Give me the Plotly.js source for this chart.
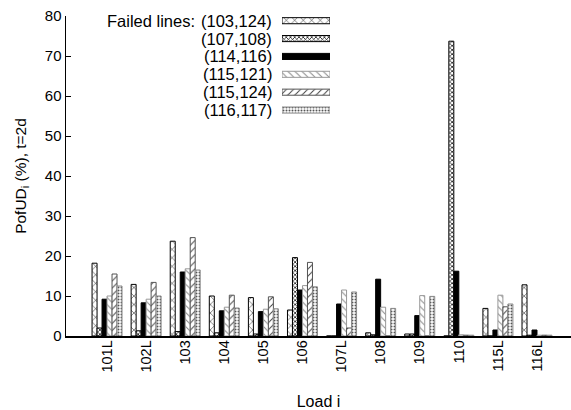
<!DOCTYPE html>
<html>
<head>
<meta charset="utf-8">
<script src="https://cdn.plot.ly/plotly-3.0.1.min.js"></script>
<style>html,body{margin:0;padding:0;background:#fff;}#chart{width:571px;height:410px;}</style>
</head>
<body>
<div id="chart"></div>
<script>
const loads = ["101L","102L","103","104","105","106","107L","108","109","110","115L","116L"];
const seriesNames = ["(103,124)","(107,108)","(114,116)","(115,121)","(115,124)","(116,117)"];
const s103_124 = [18.2, 12.9, 23.7, 10.0, 9.6, 6.5, 0, 0.8, 0.5, 0, 6.9, 12.8];
const s107_108 = [2.0, 1.3, 1.1, 0.8, 0.5, 19.6, 0, 0.3, 0.5, 73.7, 0, 0.2];
const s114_116 = [9.2, 8.3, 16.0, 6.3, 6.1, 11.5, 8.0, 14.2, 5.1, 16.2, 1.5, 1.5];
const s115_121 = [10.0, 9.2, 16.8, 7.2, 6.7, 12.6, 11.5, 7.2, 10.1, 0.3, 10.2, 0.2];
const s115_124 = [15.5, 13.4, 24.6, 10.2, 9.8, 18.4, 2.0, 0, 0, 0.2, 7.3, 0.2];
const s116_117 = [12.5, 10.0, 16.5, 7.0, 6.8, 12.3, 11.0, 6.9, 9.9, 0.2, 8.0, 0.2];
const allSeries = [s103_124, s107_108, s114_116, s115_121, s115_124, s116_117];

const styles = [
  {color:'white', line:{color:'#000', width:1}, pattern:{shape:'x', fgcolor:'#000', bgcolor:'white', size:6, solidity:0.15}},
  {color:'white', line:{color:'#000', width:1}, pattern:{shape:'x', fgcolor:'#000', bgcolor:'white', size:3, solidity:0.4}},
  {color:'#000', line:{color:'#000', width:1}},
  {color:'white', line:{color:'#999', width:1}, pattern:{shape:'\\', fgcolor:'#888', bgcolor:'white', size:5, solidity:0.2}},
  {color:'white', line:{color:'#555', width:1}, pattern:{shape:'/', fgcolor:'#444', bgcolor:'white', size:5, solidity:0.2}},
  {color:'white', line:{color:'#888', width:1}, pattern:{shape:'.', fgcolor:'#555', bgcolor:'white', size:3, solidity:0.35}}
];

const traces = allSeries.map((vals, i) => ({
  type:'bar', x: loads, y: vals, name: seriesNames[i], showlegend:false,
  marker: styles[i], xaxis:'x', yaxis:'y', hoverinfo:'x+y+name'
}));

// Legend key swatches: one horizontal bar per series on a small overlay axis
const keyRows = [0,1,2,3,4,5];
seriesNames.forEach((n, i) => {
  traces.push({
    type:'bar', orientation:'h', x:[1], y:[keyRows[i]], width:0.34, offsetgroup:'key',
    showlegend:false, xaxis:'x2', yaxis:'y2', hoverinfo:'skip', name:n,
    marker: styles[i]
  });
});

const font = "Liberation Sans, Arial, Helvetica, sans-serif";
const rowPaperY = r => (336 - (20.7 + 17.86 * r)) / 320;
const annotations = seriesNames.map((n, i) => ({
  xref:'paper', yref:'paper', x:(274 - 66) / 505, y:rowPaperY(i), text:n, showarrow:false,
  xanchor:'right', yanchor:'middle', font:{family:font, size:16.5, color:'#000'}
}));
annotations.push({
  xref:'paper', yref:'paper', x:(197 - 66) / 505, y:rowPaperY(0), text:'Failed lines:', showarrow:false,
  xanchor:'right', yanchor:'middle', font:{family:font, size:16.5, color:'#000'}
});

const layout = {
  width:571, height:410,
  margin:{l:66, r:0, t:16, b:74},
  paper_bgcolor:'white', plot_bgcolor:'white',
  font:{family:font, size:15, color:'#000'},
  barmode:'group', bargap:0.233, bargroupgap:0,
  showlegend:false,
  xaxis:{
    type:'category', range:[-1.05, 11.87], tickangle:-90, ticks:'', showgrid:false, zeroline:false,
    showline:true, linecolor:'#000', linewidth:1.5, tickfont:{family:font, size:14.5},
    ticklabelstandoff:-3,
    title:{text:'Load i', font:{family:font, size:16}, standoff:24}
  },
  yaxis:{
    range:[0,80], dtick:10, ticks:'inside', ticklen:5, tickcolor:'#000', showgrid:false, zeroline:false,
    showline:true, linecolor:'#000', linewidth:1.5, tickfont:{family:font, size:15},
    title:{text:'PofUD<sub>i</sub> (%), t=2d', font:{family:font, size:15.5}, standoff:14}
  },
  xaxis2:{domain:[(282 - 66) / 505, (330 - 66) / 505], range:[0,1], visible:false, anchor:'y2', fixedrange:true},
  yaxis2:{domain:[0.6, 1.0], range:[6.9, -0.263], visible:false, anchor:'x2', fixedrange:true},
  annotations: annotations
};

Plotly.newPlot('chart', traces, layout, {displayModeBar:false, staticPlot:true});
</script>
</body>
</html>
